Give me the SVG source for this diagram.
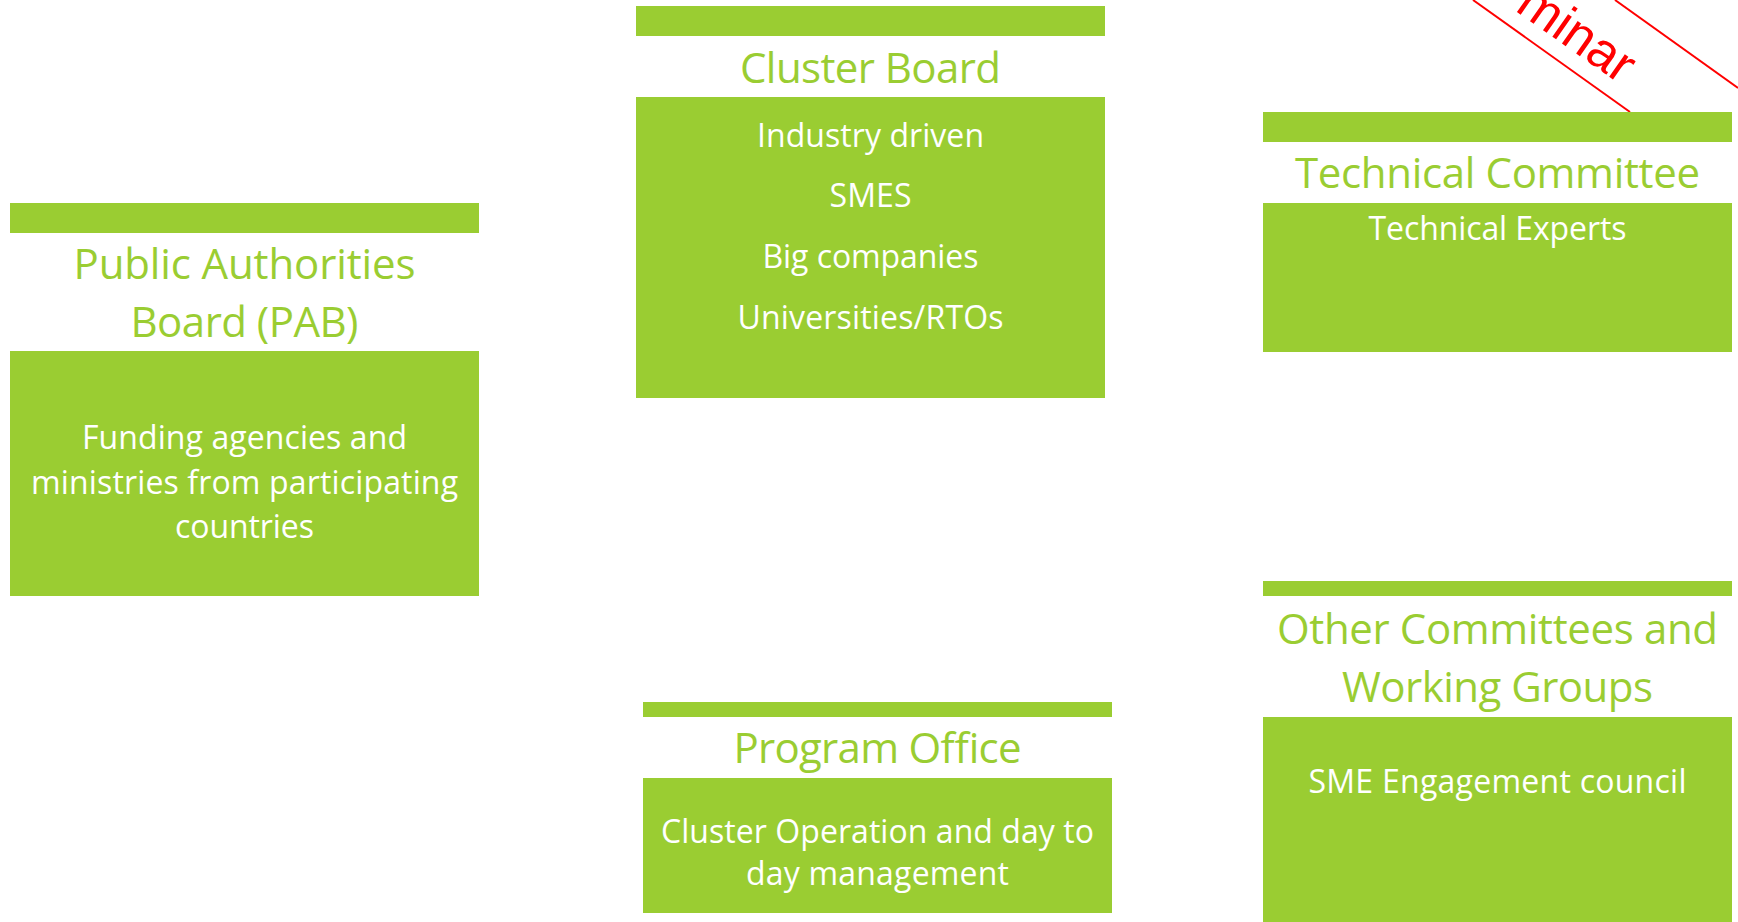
<svg xmlns="http://www.w3.org/2000/svg" width="1738" height="922" viewBox="0 0 1738 922">
<style>
.bar{fill:#9ACD32}
.body{fill:#9ACD32}
.title{font-family:"Open Sans","Noto Sans",sans-serif;font-size:42px;fill:#9ACD32;text-anchor:middle}
.txt{font-family:"Open Sans","Noto Sans",sans-serif;font-size:32px;fill:#FFFFFF;text-anchor:middle}
.wm{stroke:#FF0000;stroke-width:2;fill:none}
.wmt{font-family:"Liberation Sans",Arial,sans-serif;font-size:52px;fill:#FF0000}
</style>
<rect width="1738" height="922" fill="#FFFFFF"/>
<g id="watermark">
<line class="wm" x1="1473" y1="0" x2="1630" y2="112"/>
<line class="wm" x1="1615" y1="0" x2="1738" y2="88"/>
<text class="wmt" transform="translate(1514,10) rotate(35)">minar</text>
</g>
<g id="connectors"></g>
<g id="pab">
<rect class="bar" x="10" y="203" width="469" height="30"/>
<text class="title" x="244.5" y="279" textLength="342">Public Authorities</text>
<text class="title" x="244.5" y="337" textLength="228">Board (PAB)</text>
<rect class="body" x="10" y="351" width="469" height="245"/>
<text class="txt" x="244.5" y="449" textLength="325">Funding agencies and</text>
<text class="txt" x="244.5" y="494" textLength="427">ministries from participating</text>
<text class="txt" x="244.5" y="538" textLength="139">countries</text>
</g>
<g id="cluster-board">
<rect class="bar" x="636" y="6" width="469" height="30"/>
<text class="title" x="870.5" y="83" textLength="261">Cluster Board</text>
<rect class="body" x="636" y="97" width="469" height="301"/>
<text class="txt" x="870.5" y="147" textLength="227">Industry driven</text>
<text class="txt" x="870.5" y="207" textLength="82">SMES</text>
<text class="txt" x="870.5" y="268" textLength="216">Big companies</text>
<text class="txt" x="870.5" y="329" textLength="266">Universities/RTOs</text>
</g>
<g id="program-office">
<rect class="bar" x="643" y="702" width="469" height="15"/>
<text class="title" x="877.5" y="763" textLength="288">Program Office</text>
<rect class="body" x="643" y="778" width="469" height="135"/>
<text class="txt" x="877.5" y="843" textLength="433">Cluster Operation and day to</text>
<text class="txt" x="877.5" y="885" textLength="263">day management</text>
</g>
<g id="technical-committee">
<rect class="bar" x="1263" y="112" width="469" height="30"/>
<text class="title" x="1497.5" y="188" textLength="405">Technical Committee</text>
<rect class="body" x="1263" y="203" width="469" height="149"/>
<text class="txt" x="1497.5" y="240" textLength="258">Technical Experts</text>
</g>
<g id="other-committees">
<rect class="bar" x="1263" y="581" width="469" height="15"/>
<text class="title" x="1497.5" y="644" textLength="441">Other Committees and</text>
<text class="title" x="1497.5" y="702" textLength="311">Working Groups</text>
<rect class="body" x="1263" y="717" width="469" height="205"/>
<text class="txt" x="1497.5" y="793" textLength="378">SME Engagement council</text>
</g>
</svg>
